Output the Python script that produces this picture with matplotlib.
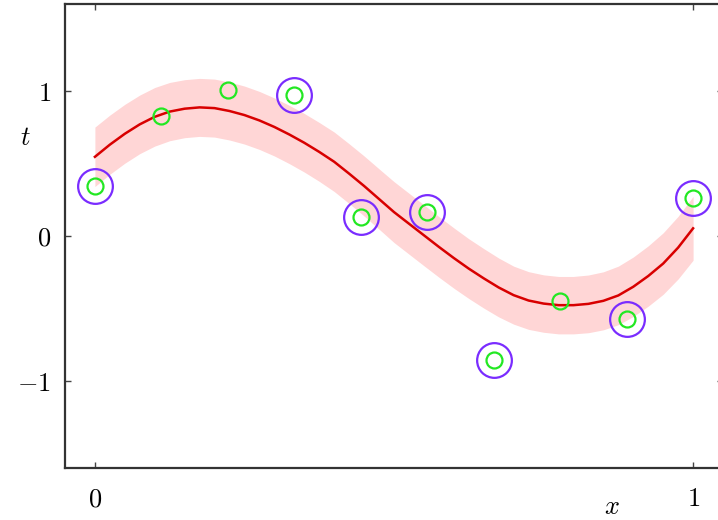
import numpy as np
import matplotlib.pyplot as plt

plt.rcParams['mathtext.fontset'] = 'cm'
plt.rcParams['font.family'] = 'serif'
plt.rcParams['font.serif'] = ['DejaVu Serif']

# training data
x_data = np.linspace(0, 1, 10)
t_data = [0.347, 0.826, 1.005, 0.975, 0.132, 0.163, -0.854, -0.451, -0.569, 0.264]

# indices of the relevance vectors
rv_idx = [0, 3, 4, 5, 6, 8, 9]

# predictive mean and standard deviation
x_pred = np.linspace(0, 1, 41)
mean_pred = [0.546, 0.63, 0.705, 0.77, 0.822, 0.858, 0.878, 0.887, 0.882, 0.862,
             0.834, 0.797, 0.752, 0.70, 0.643, 0.58, 0.512, 0.43, 0.345, 0.255,
             0.165, 0.085, 0.005, -0.075, -0.152, -0.225, -0.292, -0.355, -0.408, -0.445,
             -0.466, -0.477, -0.477, -0.468, -0.447, -0.41, -0.35, -0.276, -0.19, -0.08,
             0.053]
std_pred = [0.205, 0.204, 0.203, 0.202, 0.202, 0.201, 0.20, 0.20, 0.20, 0.20,
            0.20, 0.20, 0.20, 0.201, 0.202, 0.203, 0.205, 0.206, 0.207, 0.208,
            0.21, 0.21, 0.21, 0.209, 0.208, 0.206, 0.205, 0.203, 0.20, 0.199,
            0.198, 0.198, 0.198, 0.199, 0.20, 0.202, 0.205, 0.208, 0.212, 0.216,
            0.22]

mean_pred = np.array(mean_pred)
std_pred = np.array(std_pred)

fig = plt.figure(figsize=(7.18, 5.2), dpi=100)
ax = fig.add_axes([65 / 718, 0.1, 658 / 718, 464 / 520])

ax.fill_between(x_pred, mean_pred - std_pred, mean_pred + std_pred,
                color='#ffd6d6', linewidth=0, zorder=1)
ax.plot(x_pred, mean_pred, color='#d80000', lw=1.8, zorder=2)

ax.plot(x_data, t_data, 'o', mfc='none', mec='#22e822', ms=11.5, mew=1.6, zorder=4)
ax.plot(x_data[rv_idx], np.array(t_data)[rv_idx], 'o', mfc='none', mec='#7a2cff',
        ms=25, mew=1.6, zorder=3)

ax.set_xlim(-0.05, 1.05)
ax.set_ylim(-1.6, 1.6)
ax.set_xticks([0, 1])
ax.set_xticklabels(['$0$', '$1$'])
ax.set_yticks([-1, 0, 1])
ax.set_yticklabels(['$-1$', '$0$', '$1$'])
ax.tick_params(direction='in', length=4, width=1, color='#444444',
               top=True, right=True, labelsize=19, pad=10)
ax.tick_params(axis='x', pad=13)

for s in ax.spines.values():
    s.set_linewidth(1.6)
    s.set_color('#333333')

ax.text(0.831, -0.083, '$x$', fontsize=19, transform=ax.transAxes,
        ha='center', va='center')
ax.set_ylabel('$t$', fontsize=19, rotation=0)
ax.yaxis.set_label_coords(-0.061, 0.685)

fig.savefig('out.png', dpi=100, facecolor='white')
